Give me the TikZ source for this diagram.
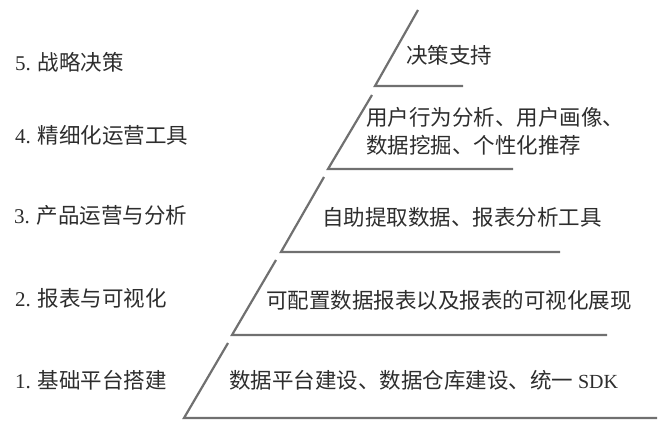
\documentclass[tikz,border=0pt]{standalone}
\usepackage{fontspec}
\setmainfont{Liberation Serif}
\newfontfamily\cjk{Noto Sans CJK SC}
\usepackage{tikz}
\usetikzlibrary{positioning,calc}
\definecolor{stgray}{RGB}{112,112,112}
\definecolor{sttext}{RGB}{45,45,45}

\begin{document}
\begin{tikzpicture}[
  x=1pt, y=-1pt,
  stair/.style={draw=stgray, line width=2.2pt, line join=miter},
  level/.style={anchor=west, inner sep=0pt, text=sttext, font=\fontsize{21}{28}\selectfont},
  detail/.style={anchor=west, inner sep=0pt, text=sttext, align=left, font=\cjk\fontsize{21.5}{28}\selectfont}
]
\useasboundingbox (0,0) rectangle (672,427);

% Level 5 - strategy
\coordinate (top5) at (418,10);
\coordinate (foot5) at (375,86);
\coordinate (end5) at (463,86);
\draw[stair] (top5) -- (foot5) -- (end5);

% Level 4 - fine operation
\coordinate (top4) at (372,95);
\coordinate (foot4) at (328,169);
\coordinate (end4) at (513,169);
\draw[stair] (top4) -- (foot4) -- (end4);

% Level 3 - product analysis
\coordinate (top3) at (324,177);
\coordinate (foot3) at (281,252);
\coordinate (end3) at (560,252);
\draw[stair] (top3) -- (foot3) -- (end3);

% Level 2 - reports
\coordinate (top2) at (276,260);
\coordinate (foot2) at (232,335);
\coordinate (end2) at (607,335);
\draw[stair] (top2) -- (foot2) -- (end2);

% Level 1 - platform
\coordinate (top1) at (228,343);
\coordinate (foot1) at (184,418);
\coordinate (end1) at (657,418);
\draw[stair] (top1) -- (foot1) -- (end1);

% Left labels
\node[level] (name5) at (15,62) {5. {\cjk\fontsize{21.5}{28}\selectfont 战略决策}};
\node[level] (name4) at (15,135) {4. {\cjk\fontsize{21.5}{28}\selectfont 精细化运营工具}};
\node[level] (name3) at (14,215) {3. {\cjk\fontsize{21.5}{28}\selectfont 产品运营与分析}};
\node[level] (name2) at (15,298) {2. {\cjk\fontsize{21.5}{28}\selectfont 报表与可视化}};
\node[level] (name1) at (15,380) {1. {\cjk\fontsize{21.5}{28}\selectfont 基础平台搭建}};

% Right texts
\node[detail] (text5) at (406,55) {决策支持};
\node[detail] (text4) at (366,131) {用户行为分析、用户画像、\\数据挖掘、个性化推荐};
\node[detail] (text3) at (322,217) {自助提取数据、报表分析工具};
\node[detail] (text2) at (266,300) {可配置数据报表以及报表的可视化展现};
\node[detail] (text1) at (229,380) {数据平台建设、数据仓库建设、统一 {\rmfamily\fontsize{20}{28}\selectfont SDK}};

\end{tikzpicture}
\end{document}
